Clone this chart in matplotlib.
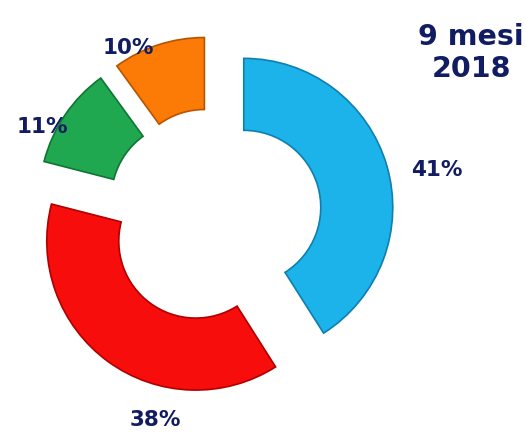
import matplotlib.pyplot as plt

# data
shares = [41, 38, 11, 10]
labels = ["41%", "38%", "11%", "10%"]
colors = ["#1cb2ea", "#f80d0d", "#1fa84f", "#fc7a06"]
edges = ["#0e7fae", "#b00000", "#0f7535", "#b85400"]
title = "9 mesi\n2018"

# layout (pixel units, y up)
W, H = 526, 432
center = (214, 216)
radius = 149
ring = 72
gap = 31
label_pos = [(437, 262), (155, 12), (42, 305), (128, 384)]
navy = "#111c62"

fig = plt.figure(figsize=(W / 100, H / 100), dpi=100)
ax = fig.add_axes([0, 0, 1, 1])

wedges, _ = ax.pie(shares, colors=colors, startangle=90, counterclock=False,
                   radius=radius, center=center, explode=[gap] * len(shares),
                   wedgeprops=dict(width=ring, linewidth=1.2))
for w, ec in zip(wedges, edges):
    w.set_edgecolor(ec)

for lab, (x, y) in zip(labels, label_pos):
    ax.text(x, y, lab, ha="center", va="center", fontsize=15.5,
            fontweight="bold", color=navy, family="DejaVu Sans")

ax.text(471, 379, title, ha="center", va="center", fontsize=20.5,
        fontweight="bold", color=navy, family="DejaVu Sans", linespacing=1.15)

ax.set_xlim(0, W)
ax.set_ylim(0, H)
ax.set_aspect("equal")
ax.axis("off")

fig.savefig("out.png", dpi=100)
